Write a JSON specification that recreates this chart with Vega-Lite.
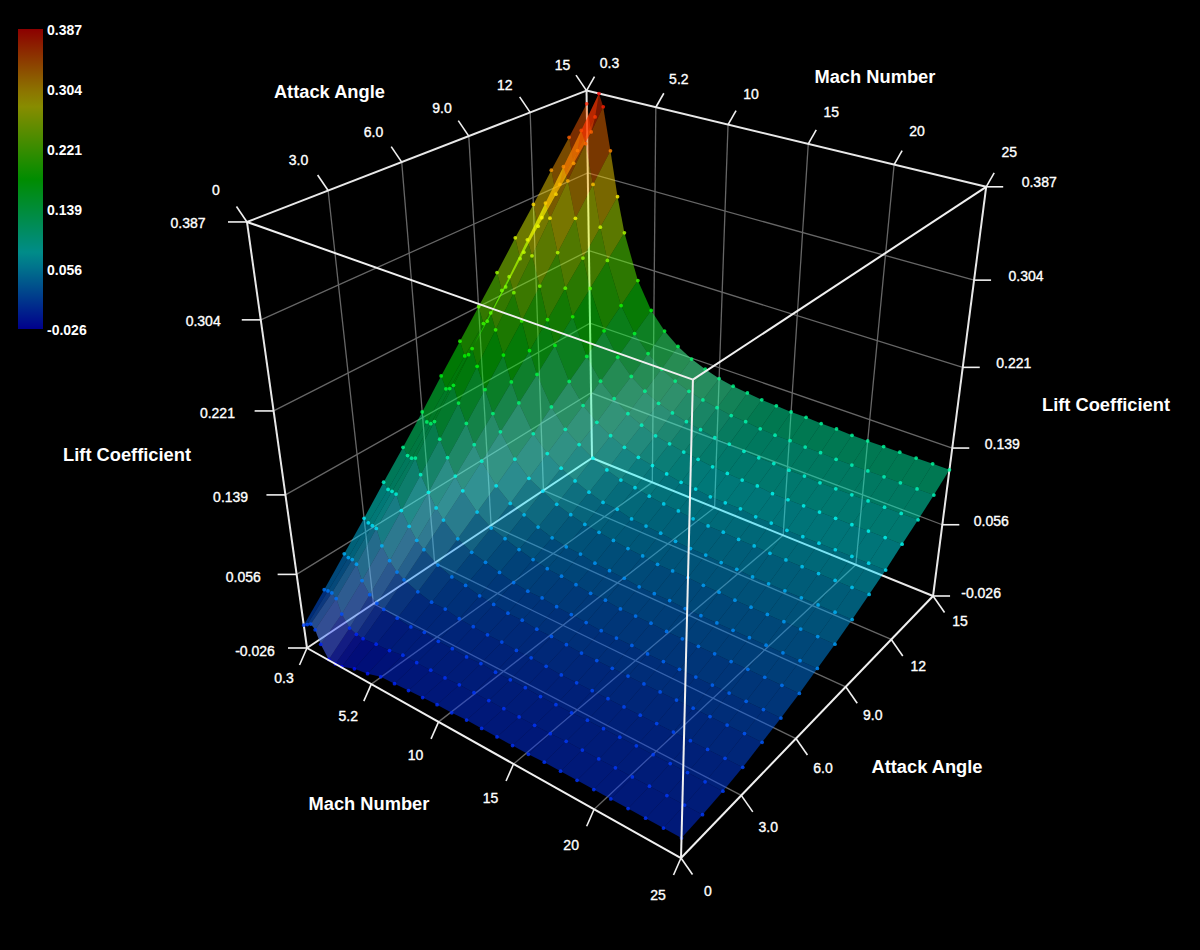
{"$schema":"https://vega.github.io/schema/vega-lite/v6.json","width":1200,"height":950,"padding":0,"autosize":{"type":"none"},"background":"#000000","config":{"view":{"stroke":null},"font":"Liberation Sans"},
"datasets":{
"surface":[
{"m":0.3,"a":15,"c":0.374},{"m":0.3,"a":14,"c":0.348},{"m":0.3,"a":13,"c":0.323},{"m":0.3,"a":12,"c":0.297},{"m":0.3,"a":11,"c":0.272},{"m":0.3,"a":10,"c":0.246},{"m":0.3,"a":9,"c":0.221},{"m":0.3,"a":8,"c":0.196},{"m":0.3,"a":7,"c":0.171},{"m":0.3,"a":6,"c":0.145},{"m":0.3,"a":5,"c":0.12},{"m":0.3,"a":4,"c":0.096},{"m":0.3,"a":3,"c":0.071},{"m":0.3,"a":2,"c":0.047},{"m":0.3,"a":1,"c":0.023},{"m":0.3,"a":0,"c":0},
{"m":0.6,"a":15,"c":0.347},{"m":0.6,"a":14,"c":0.323},{"m":0.6,"a":13,"c":0.3},{"m":0.6,"a":12,"c":0.276},{"m":0.6,"a":11,"c":0.252},{"m":0.6,"a":10,"c":0.229},{"m":0.6,"a":9,"c":0.205},{"m":0.6,"a":8,"c":0.182},{"m":0.6,"a":7,"c":0.159},{"m":0.6,"a":6,"c":0.136},{"m":0.6,"a":5,"c":0.113},{"m":0.6,"a":4,"c":0.09},{"m":0.6,"a":3,"c":0.068},{"m":0.6,"a":2,"c":0.045},{"m":0.6,"a":1,"c":0.024},{"m":0.6,"a":0,"c":0.003},
{"m":0.9,"a":15,"c":0.363},{"m":0.9,"a":14,"c":0.337},{"m":0.9,"a":13,"c":0.311},{"m":0.9,"a":12,"c":0.286},{"m":0.9,"a":11,"c":0.26},{"m":0.9,"a":10,"c":0.234},{"m":0.9,"a":9,"c":0.209},{"m":0.9,"a":8,"c":0.185},{"m":0.9,"a":7,"c":0.161},{"m":0.9,"a":6,"c":0.136},{"m":0.9,"a":5,"c":0.112},{"m":0.9,"a":4,"c":0.09},{"m":0.9,"a":3,"c":0.067},{"m":0.9,"a":2,"c":0.045},{"m":0.9,"a":1,"c":0.024},{"m":0.9,"a":0,"c":0.006},
{"m":1.2,"a":15,"c":0.387},{"m":1.2,"a":14,"c":0.358},{"m":1.2,"a":13,"c":0.33},{"m":1.2,"a":12,"c":0.302},{"m":1.2,"a":11,"c":0.274},{"m":1.2,"a":10,"c":0.246},{"m":1.2,"a":9,"c":0.219},{"m":1.2,"a":8,"c":0.193},{"m":1.2,"a":7,"c":0.166},{"m":1.2,"a":6,"c":0.14},{"m":1.2,"a":5,"c":0.114},{"m":1.2,"a":4,"c":0.089},{"m":1.2,"a":3,"c":0.066},{"m":1.2,"a":2,"c":0.042},{"m":1.2,"a":1,"c":0.02},{"m":1.2,"a":0,"c":0.002},
{"m":1.5,"a":15,"c":0.375},{"m":1.5,"a":14,"c":0.346},{"m":1.5,"a":13,"c":0.317},{"m":1.5,"a":12,"c":0.288},{"m":1.5,"a":11,"c":0.259},{"m":1.5,"a":10,"c":0.231},{"m":1.5,"a":9,"c":0.203},{"m":1.5,"a":8,"c":0.176},{"m":1.5,"a":7,"c":0.149},{"m":1.5,"a":6,"c":0.123},{"m":1.5,"a":5,"c":0.098},{"m":1.5,"a":4,"c":0.073},{"m":1.5,"a":3,"c":0.049},{"m":1.5,"a":2,"c":0.026},{"m":1.5,"a":1,"c":0.005},{"m":1.5,"a":0,"c":-0.012},
{"m":2,"a":15,"c":0.333},{"m":2,"a":14,"c":0.307},{"m":2,"a":13,"c":0.281},{"m":2,"a":12,"c":0.255},{"m":2,"a":11,"c":0.23},{"m":2,"a":10,"c":0.204},{"m":2,"a":9,"c":0.179},{"m":2,"a":8,"c":0.154},{"m":2,"a":7,"c":0.13},{"m":2,"a":6,"c":0.106},{"m":2,"a":5,"c":0.082},{"m":2,"a":4,"c":0.059},{"m":2,"a":3,"c":0.036},{"m":2,"a":2,"c":0.014},{"m":2,"a":1,"c":-0.007},{"m":2,"a":0,"c":-0.025},
{"m":2.5,"a":15,"c":0.288},{"m":2.5,"a":14,"c":0.265},{"m":2.5,"a":13,"c":0.242},{"m":2.5,"a":12,"c":0.22},{"m":2.5,"a":11,"c":0.197},{"m":2.5,"a":10,"c":0.175},{"m":2.5,"a":9,"c":0.153},{"m":2.5,"a":8,"c":0.131},{"m":2.5,"a":7,"c":0.11},{"m":2.5,"a":6,"c":0.089},{"m":2.5,"a":5,"c":0.068},{"m":2.5,"a":4,"c":0.047},{"m":2.5,"a":3,"c":0.027},{"m":2.5,"a":2,"c":0.008},{"m":2.5,"a":1,"c":-0.01},{"m":2.5,"a":0,"c":-0.026},
{"m":3,"a":15,"c":0.252},{"m":3,"a":14,"c":0.232},{"m":3,"a":13,"c":0.212},{"m":3,"a":12,"c":0.192},{"m":3,"a":11,"c":0.172},{"m":3,"a":10,"c":0.152},{"m":3,"a":9,"c":0.133},{"m":3,"a":8,"c":0.114},{"m":3,"a":7,"c":0.095},{"m":3,"a":6,"c":0.076},{"m":3,"a":5,"c":0.058},{"m":3,"a":4,"c":0.04},{"m":3,"a":3,"c":0.022},{"m":3,"a":2,"c":0.005},{"m":3,"a":1,"c":-0.011},{"m":3,"a":0,"c":-0.025},
{"m":4,"a":15,"c":0.205},{"m":4,"a":14,"c":0.188},{"m":4,"a":13,"c":0.171},{"m":4,"a":12,"c":0.154},{"m":4,"a":11,"c":0.138},{"m":4,"a":10,"c":0.122},{"m":4,"a":9,"c":0.105},{"m":4,"a":8,"c":0.09},{"m":4,"a":7,"c":0.074},{"m":4,"a":6,"c":0.059},{"m":4,"a":5,"c":0.044},{"m":4,"a":4,"c":0.03},{"m":4,"a":3,"c":0.016},{"m":4,"a":2,"c":0.003},{"m":4,"a":1,"c":-0.009},{"m":4,"a":0,"c":-0.019},
{"m":5,"a":15,"c":0.177},{"m":5,"a":14,"c":0.162},{"m":5,"a":13,"c":0.147},{"m":5,"a":12,"c":0.132},{"m":5,"a":11,"c":0.117},{"m":5,"a":10,"c":0.103},{"m":5,"a":9,"c":0.089},{"m":5,"a":8,"c":0.075},{"m":5,"a":7,"c":0.061},{"m":5,"a":6,"c":0.048},{"m":5,"a":5,"c":0.036},{"m":5,"a":4,"c":0.024},{"m":5,"a":3,"c":0.012},{"m":5,"a":2,"c":0.001},{"m":5,"a":1,"c":-0.008},{"m":5,"a":0,"c":-0.016},
{"m":6,"a":15,"c":0.159},{"m":6,"a":14,"c":0.145},{"m":6,"a":13,"c":0.131},{"m":6,"a":12,"c":0.118},{"m":6,"a":11,"c":0.104},{"m":6,"a":10,"c":0.092},{"m":6,"a":9,"c":0.079},{"m":6,"a":8,"c":0.067},{"m":6,"a":7,"c":0.055},{"m":6,"a":6,"c":0.043},{"m":6,"a":5,"c":0.032},{"m":6,"a":4,"c":0.022},{"m":6,"a":3,"c":0.012},{"m":6,"a":2,"c":0.003},{"m":6,"a":1,"c":-0.005},{"m":6,"a":0,"c":-0.011},
{"m":7,"a":15,"c":0.147},{"m":7,"a":14,"c":0.133},{"m":7,"a":13,"c":0.12},{"m":7,"a":12,"c":0.107},{"m":7,"a":11,"c":0.095},{"m":7,"a":10,"c":0.083},{"m":7,"a":9,"c":0.071},{"m":7,"a":8,"c":0.059},{"m":7,"a":7,"c":0.048},{"m":7,"a":6,"c":0.038},{"m":7,"a":5,"c":0.028},{"m":7,"a":4,"c":0.018},{"m":7,"a":3,"c":0.009},{"m":7,"a":2,"c":0.001},{"m":7,"a":1,"c":-0.005},{"m":7,"a":0,"c":-0.01},
{"m":8,"a":15,"c":0.138},{"m":8,"a":14,"c":0.125},{"m":8,"a":13,"c":0.112},{"m":8,"a":12,"c":0.1},{"m":8,"a":11,"c":0.088},{"m":8,"a":10,"c":0.076},{"m":8,"a":9,"c":0.065},{"m":8,"a":8,"c":0.054},{"m":8,"a":7,"c":0.043},{"m":8,"a":6,"c":0.034},{"m":8,"a":5,"c":0.024},{"m":8,"a":4,"c":0.016},{"m":8,"a":3,"c":0.008},{"m":8,"a":2,"c":0.001},{"m":8,"a":1,"c":-0.005},{"m":8,"a":0,"c":-0.009},
{"m":9,"a":15,"c":0.132},{"m":9,"a":14,"c":0.119},{"m":9,"a":13,"c":0.107},{"m":9,"a":12,"c":0.094},{"m":9,"a":11,"c":0.083},{"m":9,"a":10,"c":0.071},{"m":9,"a":9,"c":0.06},{"m":9,"a":8,"c":0.05},{"m":9,"a":7,"c":0.04},{"m":9,"a":6,"c":0.031},{"m":9,"a":5,"c":0.022},{"m":9,"a":4,"c":0.014},{"m":9,"a":3,"c":0.007},{"m":9,"a":2,"c":0},{"m":9,"a":1,"c":-0.005},{"m":9,"a":0,"c":-0.008},
{"m":10,"a":15,"c":0.127},{"m":10,"a":14,"c":0.115},{"m":10,"a":13,"c":0.103},{"m":10,"a":12,"c":0.091},{"m":10,"a":11,"c":0.08},{"m":10,"a":10,"c":0.069},{"m":10,"a":9,"c":0.059},{"m":10,"a":8,"c":0.048},{"m":10,"a":7,"c":0.039},{"m":10,"a":6,"c":0.03},{"m":10,"a":5,"c":0.022},{"m":10,"a":4,"c":0.014},{"m":10,"a":3,"c":0.007},{"m":10,"a":2,"c":0.001},{"m":10,"a":1,"c":-0.004},{"m":10,"a":0,"c":-0.007},
{"m":11,"a":15,"c":0.124},{"m":11,"a":14,"c":0.112},{"m":11,"a":13,"c":0.1},{"m":11,"a":12,"c":0.088},{"m":11,"a":11,"c":0.077},{"m":11,"a":10,"c":0.066},{"m":11,"a":9,"c":0.055},{"m":11,"a":8,"c":0.046},{"m":11,"a":7,"c":0.036},{"m":11,"a":6,"c":0.028},{"m":11,"a":5,"c":0.02},{"m":11,"a":4,"c":0.012},{"m":11,"a":3,"c":0.006},{"m":11,"a":2,"c":0},{"m":11,"a":1,"c":-0.004},{"m":11,"a":0,"c":-0.007},
{"m":12,"a":15,"c":0.122},{"m":12,"a":14,"c":0.109},{"m":12,"a":13,"c":0.097},{"m":12,"a":12,"c":0.086},{"m":12,"a":11,"c":0.074},{"m":12,"a":10,"c":0.064},{"m":12,"a":9,"c":0.054},{"m":12,"a":8,"c":0.044},{"m":12,"a":7,"c":0.035},{"m":12,"a":6,"c":0.026},{"m":12,"a":5,"c":0.019},{"m":12,"a":4,"c":0.012},{"m":12,"a":3,"c":0.006},{"m":12,"a":2,"c":0},{"m":12,"a":1,"c":-0.004},{"m":12,"a":0,"c":-0.006},
{"m":13,"a":15,"c":0.12},{"m":13,"a":14,"c":0.108},{"m":13,"a":13,"c":0.096},{"m":13,"a":12,"c":0.084},{"m":13,"a":11,"c":0.073},{"m":13,"a":10,"c":0.063},{"m":13,"a":9,"c":0.053},{"m":13,"a":8,"c":0.043},{"m":13,"a":7,"c":0.034},{"m":13,"a":6,"c":0.026},{"m":13,"a":5,"c":0.018},{"m":13,"a":4,"c":0.011},{"m":13,"a":3,"c":0.005},{"m":13,"a":2,"c":0},{"m":13,"a":1,"c":-0.004},{"m":13,"a":0,"c":-0.006},
{"m":14,"a":15,"c":0.119},{"m":14,"a":14,"c":0.106},{"m":14,"a":13,"c":0.094},{"m":14,"a":12,"c":0.083},{"m":14,"a":11,"c":0.071},{"m":14,"a":10,"c":0.061},{"m":14,"a":9,"c":0.051},{"m":14,"a":8,"c":0.041},{"m":14,"a":7,"c":0.032},{"m":14,"a":6,"c":0.024},{"m":14,"a":5,"c":0.017},{"m":14,"a":4,"c":0.01},{"m":14,"a":3,"c":0.004},{"m":14,"a":2,"c":-0.001},{"m":14,"a":1,"c":-0.004},{"m":14,"a":0,"c":-0.006},
{"m":15,"a":15,"c":0.118},{"m":15,"a":14,"c":0.105},{"m":15,"a":13,"c":0.093},{"m":15,"a":12,"c":0.082},{"m":15,"a":11,"c":0.071},{"m":15,"a":10,"c":0.06},{"m":15,"a":9,"c":0.05},{"m":15,"a":8,"c":0.041},{"m":15,"a":7,"c":0.032},{"m":15,"a":6,"c":0.024},{"m":15,"a":5,"c":0.017},{"m":15,"a":4,"c":0.01},{"m":15,"a":3,"c":0.004},{"m":15,"a":2,"c":-0.001},{"m":15,"a":1,"c":-0.004},{"m":15,"a":0,"c":-0.006},
{"m":16,"a":15,"c":0.118},{"m":16,"a":14,"c":0.105},{"m":16,"a":13,"c":0.093},{"m":16,"a":12,"c":0.082},{"m":16,"a":11,"c":0.071},{"m":16,"a":10,"c":0.06},{"m":16,"a":9,"c":0.05},{"m":16,"a":8,"c":0.041},{"m":16,"a":7,"c":0.032},{"m":16,"a":6,"c":0.024},{"m":16,"a":5,"c":0.017},{"m":16,"a":4,"c":0.01},{"m":16,"a":3,"c":0.004},{"m":16,"a":2,"c":-0.001},{"m":16,"a":1,"c":-0.004},{"m":16,"a":0,"c":-0.006},
{"m":17,"a":15,"c":0.117},{"m":17,"a":14,"c":0.104},{"m":17,"a":13,"c":0.092},{"m":17,"a":12,"c":0.08},{"m":17,"a":11,"c":0.069},{"m":17,"a":10,"c":0.059},{"m":17,"a":9,"c":0.049},{"m":17,"a":8,"c":0.04},{"m":17,"a":7,"c":0.031},{"m":17,"a":6,"c":0.023},{"m":17,"a":5,"c":0.016},{"m":17,"a":4,"c":0.01},{"m":17,"a":3,"c":0.004},{"m":17,"a":2,"c":0},{"m":17,"a":1,"c":-0.003},{"m":17,"a":0,"c":-0.005},
{"m":18,"a":15,"c":0.117},{"m":18,"a":14,"c":0.104},{"m":18,"a":13,"c":0.092},{"m":18,"a":12,"c":0.08},{"m":18,"a":11,"c":0.069},{"m":18,"a":10,"c":0.059},{"m":18,"a":9,"c":0.049},{"m":18,"a":8,"c":0.04},{"m":18,"a":7,"c":0.031},{"m":18,"a":6,"c":0.023},{"m":18,"a":5,"c":0.016},{"m":18,"a":4,"c":0.01},{"m":18,"a":3,"c":0.004},{"m":18,"a":2,"c":0},{"m":18,"a":1,"c":-0.003},{"m":18,"a":0,"c":-0.005},
{"m":19,"a":15,"c":0.116},{"m":19,"a":14,"c":0.103},{"m":19,"a":13,"c":0.091},{"m":19,"a":12,"c":0.08},{"m":19,"a":11,"c":0.068},{"m":19,"a":10,"c":0.058},{"m":19,"a":9,"c":0.048},{"m":19,"a":8,"c":0.039},{"m":19,"a":7,"c":0.031},{"m":19,"a":6,"c":0.023},{"m":19,"a":5,"c":0.016},{"m":19,"a":4,"c":0.01},{"m":19,"a":3,"c":0.004},{"m":19,"a":2,"c":0},{"m":19,"a":1,"c":-0.003},{"m":19,"a":0,"c":-0.005},
{"m":20,"a":15,"c":0.116},{"m":20,"a":14,"c":0.103},{"m":20,"a":13,"c":0.091},{"m":20,"a":12,"c":0.08},{"m":20,"a":11,"c":0.068},{"m":20,"a":10,"c":0.058},{"m":20,"a":9,"c":0.048},{"m":20,"a":8,"c":0.039},{"m":20,"a":7,"c":0.031},{"m":20,"a":6,"c":0.023},{"m":20,"a":5,"c":0.016},{"m":20,"a":4,"c":0.01},{"m":20,"a":3,"c":0.004},{"m":20,"a":2,"c":0},{"m":20,"a":1,"c":-0.003},{"m":20,"a":0,"c":-0.005},
{"m":21,"a":15,"c":0.116},{"m":21,"a":14,"c":0.103},{"m":21,"a":13,"c":0.091},{"m":21,"a":12,"c":0.08},{"m":21,"a":11,"c":0.068},{"m":21,"a":10,"c":0.058},{"m":21,"a":9,"c":0.048},{"m":21,"a":8,"c":0.039},{"m":21,"a":7,"c":0.031},{"m":21,"a":6,"c":0.023},{"m":21,"a":5,"c":0.016},{"m":21,"a":4,"c":0.01},{"m":21,"a":3,"c":0.004},{"m":21,"a":2,"c":0},{"m":21,"a":1,"c":-0.003},{"m":21,"a":0,"c":-0.005},
{"m":22,"a":15,"c":0.116},{"m":22,"a":14,"c":0.103},{"m":22,"a":13,"c":0.091},{"m":22,"a":12,"c":0.08},{"m":22,"a":11,"c":0.068},{"m":22,"a":10,"c":0.058},{"m":22,"a":9,"c":0.048},{"m":22,"a":8,"c":0.039},{"m":22,"a":7,"c":0.031},{"m":22,"a":6,"c":0.023},{"m":22,"a":5,"c":0.016},{"m":22,"a":4,"c":0.01},{"m":22,"a":3,"c":0.004},{"m":22,"a":2,"c":0},{"m":22,"a":1,"c":-0.003},{"m":22,"a":0,"c":-0.005},
{"m":23,"a":15,"c":0.116},{"m":23,"a":14,"c":0.103},{"m":23,"a":13,"c":0.091},{"m":23,"a":12,"c":0.08},{"m":23,"a":11,"c":0.068},{"m":23,"a":10,"c":0.058},{"m":23,"a":9,"c":0.048},{"m":23,"a":8,"c":0.039},{"m":23,"a":7,"c":0.031},{"m":23,"a":6,"c":0.023},{"m":23,"a":5,"c":0.016},{"m":23,"a":4,"c":0.01},{"m":23,"a":3,"c":0.004},{"m":23,"a":2,"c":0},{"m":23,"a":1,"c":-0.003},{"m":23,"a":0,"c":-0.005},
{"m":24,"a":15,"c":0.116},{"m":24,"a":14,"c":0.103},{"m":24,"a":13,"c":0.091},{"m":24,"a":12,"c":0.08},{"m":24,"a":11,"c":0.068},{"m":24,"a":10,"c":0.058},{"m":24,"a":9,"c":0.048},{"m":24,"a":8,"c":0.039},{"m":24,"a":7,"c":0.031},{"m":24,"a":6,"c":0.023},{"m":24,"a":5,"c":0.016},{"m":24,"a":4,"c":0.01},{"m":24,"a":3,"c":0.004},{"m":24,"a":2,"c":0},{"m":24,"a":1,"c":-0.003},{"m":24,"a":0,"c":-0.005},
{"m":25,"a":15,"c":0.116},{"m":25,"a":14,"c":0.103},{"m":25,"a":13,"c":0.091},{"m":25,"a":12,"c":0.08},{"m":25,"a":11,"c":0.068},{"m":25,"a":10,"c":0.058},{"m":25,"a":9,"c":0.048},{"m":25,"a":8,"c":0.039},{"m":25,"a":7,"c":0.031},{"m":25,"a":6,"c":0.023},{"m":25,"a":5,"c":0.016},{"m":25,"a":4,"c":0.01},{"m":25,"a":3,"c":0.004},{"m":25,"a":2,"c":0},{"m":25,"a":1,"c":-0.003},{"m":25,"a":0,"c":-0.005}
],
"grid":[
{"s":1,"m":0.3,"a":3,"c":0.387},{"s":1,"m":0.3,"a":3,"c":-0.026},{"s":2,"m":0.3,"a":6,"c":0.387},{"s":2,"m":0.3,"a":6,"c":-0.026},{"s":3,"m":0.3,"a":9,"c":0.387},{"s":3,"m":0.3,"a":9,"c":-0.026},{"s":4,"m":0.3,"a":12,"c":0.387},{"s":4,"m":0.3,"a":12,"c":-0.026},
{"s":5,"m":5.2,"a":15,"c":0.387},{"s":5,"m":5.2,"a":15,"c":-0.026},{"s":6,"m":10,"a":15,"c":0.387},{"s":6,"m":10,"a":15,"c":-0.026},{"s":7,"m":15,"a":15,"c":0.387},{"s":7,"m":15,"a":15,"c":-0.026},{"s":8,"m":20,"a":15,"c":0.387},{"s":8,"m":20,"a":15,"c":-0.026},
{"s":9,"m":0.3,"a":0,"c":0.056},{"s":9,"m":0.3,"a":15,"c":0.056},{"s":9,"m":25,"a":15,"c":0.056},{"s":10,"m":0.3,"a":0,"c":0.139},{"s":10,"m":0.3,"a":15,"c":0.139},{"s":10,"m":25,"a":15,"c":0.139},{"s":11,"m":0.3,"a":0,"c":0.221},{"s":11,"m":0.3,"a":15,"c":0.221},{"s":11,"m":25,"a":15,"c":0.221},{"s":12,"m":0.3,"a":0,"c":0.304},{"s":12,"m":0.3,"a":15,"c":0.304},{"s":12,"m":25,"a":15,"c":0.304},
{"s":13,"m":5.2,"a":0,"c":-0.026},{"s":13,"m":5.2,"a":15,"c":-0.026},{"s":14,"m":10,"a":0,"c":-0.026},{"s":14,"m":10,"a":15,"c":-0.026},{"s":15,"m":15,"a":0,"c":-0.026},{"s":15,"m":15,"a":15,"c":-0.026},{"s":16,"m":20,"a":0,"c":-0.026},{"s":16,"m":20,"a":15,"c":-0.026},
{"s":17,"m":0.3,"a":3,"c":-0.026},{"s":17,"m":25,"a":3,"c":-0.026},{"s":18,"m":0.3,"a":6,"c":-0.026},{"s":18,"m":25,"a":6,"c":-0.026},{"s":19,"m":0.3,"a":9,"c":-0.026},{"s":19,"m":25,"a":9,"c":-0.026},{"s":20,"m":0.3,"a":12,"c":-0.026},{"s":20,"m":25,"a":12,"c":-0.026}
],
"backEdges":[
{"s":1,"m":0.3,"a":0,"c":0.387},{"s":1,"m":0.3,"a":15,"c":0.387},{"s":2,"m":0.3,"a":15,"c":0.387},{"s":2,"m":25,"a":15,"c":0.387},{"s":3,"m":0.3,"a":0,"c":0.387},{"s":3,"m":0.3,"a":0,"c":-0.026},{"s":4,"m":0.3,"a":15,"c":0.387},{"s":4,"m":0.3,"a":15,"c":-0.026},{"s":5,"m":25,"a":15,"c":0.387},{"s":5,"m":25,"a":15,"c":-0.026},{"s":6,"m":0.3,"a":0,"c":-0.026},{"s":6,"m":0.3,"a":15,"c":-0.026},{"s":7,"m":0.3,"a":15,"c":-0.026},{"s":7,"m":25,"a":15,"c":-0.026}
],
"frontEdges":[
{"s":1,"m":0.3,"a":0,"c":0.387},{"s":1,"m":25,"a":0,"c":0.387},{"s":2,"m":25,"a":0,"c":0.387},{"s":2,"m":25,"a":15,"c":0.387},{"s":3,"m":25,"a":0,"c":0.387},{"s":3,"m":25,"a":0,"c":-0.026},{"s":4,"m":0.3,"a":0,"c":-0.026},{"s":4,"m":25,"a":0,"c":-0.026},{"s":5,"m":25,"a":0,"c":-0.026},{"s":5,"m":25,"a":15,"c":-0.026}
],
"ticks":[
{"k":"AT","m":0.3,"a":0,"c":0.387,"t":"0"},{"k":"AT","m":0.3,"a":3,"c":0.387,"t":"3.0"},{"k":"AT","m":0.3,"a":6,"c":0.387,"t":"6.0"},{"k":"AT","m":0.3,"a":9,"c":0.387,"t":"9.0"},{"k":"AT","m":0.3,"a":12,"c":0.387,"t":"12"},{"k":"AT","m":0.3,"a":15,"c":0.387,"t":"15"},
{"k":"MT","m":0.3,"a":15,"c":0.387,"t":"0.3"},{"k":"MT","m":5.2,"a":15,"c":0.387,"t":"5.2"},{"k":"MT","m":10,"a":15,"c":0.387,"t":"10"},{"k":"MT","m":15,"a":15,"c":0.387,"t":"15"},{"k":"MT","m":20,"a":15,"c":0.387,"t":"20"},{"k":"MT","m":25,"a":15,"c":0.387,"t":"25"},
{"k":"CL","m":0.3,"a":0,"c":0.387,"t":"0.387"},{"k":"CL","m":0.3,"a":0,"c":0.304,"t":"0.304"},{"k":"CL","m":0.3,"a":0,"c":0.221,"t":"0.221"},{"k":"CL","m":0.3,"a":0,"c":0.139,"t":"0.139"},{"k":"CL","m":0.3,"a":0,"c":0.056,"t":"0.056"},{"k":"CL","m":0.3,"a":0,"c":-0.026,"t":"-0.026"},
{"k":"CR","m":25,"a":15,"c":0.387,"t":"0.387"},{"k":"CR","m":25,"a":15,"c":0.304,"t":"0.304"},{"k":"CR","m":25,"a":15,"c":0.221,"t":"0.221"},{"k":"CR","m":25,"a":15,"c":0.139,"t":"0.139"},{"k":"CR","m":25,"a":15,"c":0.056,"t":"0.056"},{"k":"CR","m":25,"a":15,"c":-0.026,"t":"-0.026"},
{"k":"MB","m":0.3,"a":0,"c":-0.026,"t":"0.3"},{"k":"MB","m":5.2,"a":0,"c":-0.026,"t":"5.2"},{"k":"MB","m":10,"a":0,"c":-0.026,"t":"10"},{"k":"MB","m":15,"a":0,"c":-0.026,"t":"15"},{"k":"MB","m":20,"a":0,"c":-0.026,"t":"20"},{"k":"MB","m":25,"a":0,"c":-0.026,"t":"25"},
{"k":"AB","m":25,"a":0,"c":-0.026,"t":"0"},{"k":"AB","m":25,"a":3,"c":-0.026,"t":"3.0"},{"k":"AB","m":25,"a":6,"c":-0.026,"t":"6.0"},{"k":"AB","m":25,"a":9,"c":-0.026,"t":"9.0"},{"k":"AB","m":25,"a":12,"c":-0.026,"t":"12"},{"k":"AB","m":25,"a":15,"c":-0.026,"t":"15"}
],
"titles":[
{"k":"T1","m":0.3,"a":7.5,"c":0.387,"t":"Attack Angle"},{"k":"T2","m":25,"a":7.5,"c":-0.026,"t":"Attack Angle"},{"k":"T3","m":12.65,"a":15,"c":0.387,"t":"Mach Number"},{"k":"T4","m":12.65,"a":0,"c":-0.026,"t":"Mach Number"},{"k":"T5","m":0.3,"a":0,"c":0.1805,"t":"Lift Coefficient"},{"k":"T6","m":25,"a":15,"c":0.1805,"t":"Lift Coefficient"}
]},
"encoding":{"x":{"field":"sx","type":"quantitative","scale":{"domain":[0,1200],"nice":false,"zero":false},"axis":null},"y":{"field":"sy","type":"quantitative","scale":{"domain":[950,0],"nice":false,"zero":false},"axis":null}},
"layer":[
{"data":{"name":"grid"},"transform":[{"calculate":"1-0.1611*(datum.m-0.3)/24.7+0.2158*datum.a/15-0.157*(datum.c+0.026)/0.413","as":"D"},{"calculate":"(307+264.3*(datum.m-0.3)/24.7+412.8*datum.a/15-98.8*(datum.c+0.026)/0.413)/datum.D","as":"sx"},{"calculate":"(648+71.8*(datum.m-0.3)/24.7-91.2*datum.a/15-460.9*(datum.c+0.026)/0.413)/datum.D","as":"sy"}],"mark":{"type":"line","stroke":"#666666","strokeWidth":1.3},"encoding":{"detail":{"field":"s"},"order":null}},
{"data":{"name":"backEdges"},"transform":[{"calculate":"1-0.1611*(datum.m-0.3)/24.7+0.2158*datum.a/15-0.157*(datum.c+0.026)/0.413","as":"D"},{"calculate":"(307+264.3*(datum.m-0.3)/24.7+412.8*datum.a/15-98.8*(datum.c+0.026)/0.413)/datum.D","as":"sx"},{"calculate":"(648+71.8*(datum.m-0.3)/24.7-91.2*datum.a/15-460.9*(datum.c+0.026)/0.413)/datum.D","as":"sy"}],"mark":{"type":"line","stroke":"#e8e8e8","strokeWidth":2},"encoding":{"detail":{"field":"s"},"order":null}},
{"data":{"name":"surface"},"transform":[{"calculate":"1-0.1611*(datum.m-0.3)/24.7+0.2158*datum.a/15-0.157*(datum.c+0.026)/0.413","as":"D"},{"calculate":"(307+264.3*(datum.m-0.3)/24.7+412.8*datum.a/15-98.8*(datum.c+0.026)/0.413)/datum.D","as":"sx"},{"calculate":"(648+71.8*(datum.m-0.3)/24.7-91.2*datum.a/15-460.9*(datum.c+0.026)/0.413)/datum.D","as":"sy"},{"calculate":"indexof([0.3,0.6,0.9,1.2,1.5,2,2.5,3,4,5,6,7,8,9,10,11,12,13,14,15,16,17,18,19,20,21,22,23,24,25],datum.m)","as":"i"},{"calculate":"[datum.i*100+datum.a,(datum.i-1)*100+datum.a,(datum.i-1)*100+datum.a-1,datum.i*100+datum.a-1]","as":"q"},{"calculate":"[0,1,2,3]","as":"ord"},{"flatten":["q","ord"]},{"filter":"datum.q>=0 && datum.q<2900 && datum.q%100<15"},{"joinaggregate":[{"op":"mean","field":"c","as":"qc"}],"groupby":["q"]}],"mark":{"type":"line","stroke":"transparent","strokeWidth":0,"opacity":0.47},"encoding":{"detail":{"field":"q"},"order":{"field":"ord","type":"ordinal"},"fill":{"field":"qc","type":"quantitative","scale":{"domain":[-0.026,0.0773,0.1805,0.2838,0.387],"range":["#0000ff","#00ffff","#00ff00","#ffff00","#ff0000"],"interpolate":"rgb"},"legend":{"orient":"none","legendX":18,"legendY":29,"direction":"vertical","title":null,"gradientLength":300,"gradientThickness":25,"gradientOpacity":0.55,"values":[-0.026,0.056,0.139,0.221,0.304,0.387],"labelExpr":"replace(format(datum.value,'.3f'),'\u2212','-')","labelColor":"#ffffff","labelFontSize":14,"labelFontWeight":"bold","labelFont":"Liberation Sans","labelOffset":4,"labelOverlap":false,"encoding":{"labels":{"baseline":{"value":"middle"},"dy":{"value":1.5}}}}}}},
{"data":{"name":"surface"},"transform":[{"calculate":"1-0.1611*(datum.m-0.3)/24.7+0.2158*datum.a/15-0.157*(datum.c+0.026)/0.413","as":"D"},{"calculate":"(307+264.3*(datum.m-0.3)/24.7+412.8*datum.a/15-98.8*(datum.c+0.026)/0.413)/datum.D","as":"sx"},{"calculate":"(648+71.8*(datum.m-0.3)/24.7-91.2*datum.a/15-460.9*(datum.c+0.026)/0.413)/datum.D","as":"sy"},{"calculate":"indexof([0.3,0.6,0.9,1.2,1.5,2,2.5,3,4,5,6,7,8,9,10,11,12,13,14,15,16,17,18,19,20,21,22,23,24,25],datum.m)","as":"i"},{"calculate":"[datum.i*100+datum.a,(datum.i-1)*100+datum.a,(datum.i-1)*100+datum.a-1,datum.i*100+datum.a-1]","as":"q"},{"calculate":"[0,1,2,3]","as":"ord"},{"flatten":["q","ord"]},{"filter":"datum.q>=0 && datum.q<2900 && datum.q%100<15"},{"joinaggregate":[{"op":"mean","field":"m","as":"qm"},{"op":"mean","field":"a","as":"qa"}],"groupby":["q"]},{"calculate":"0.2*exp(-pow((log(datum.qm)-0.25-0.14*datum.qa)/0.5,2))*clamp((14-datum.qm)/6,0,1)","as":"glow"}],"mark":{"type":"line","stroke":"transparent","strokeWidth":0,"fill":"#ffffff"},"encoding":{"detail":{"field":"q"},"order":{"field":"ord","type":"ordinal"},"opacity":{"field":"glow","type":"quantitative","scale":null,"legend":null}}},
{"data":{"name":"surface"},"transform":[{"calculate":"1-0.1611*(datum.m-0.3)/24.7+0.2158*datum.a/15-0.157*(datum.c+0.026)/0.413","as":"D"},{"calculate":"(307+264.3*(datum.m-0.3)/24.7+412.8*datum.a/15-98.8*(datum.c+0.026)/0.413)/datum.D","as":"sx"},{"calculate":"(648+71.8*(datum.m-0.3)/24.7-91.2*datum.a/15-460.9*(datum.c+0.026)/0.413)/datum.D","as":"sy"}],"mark":{"type":"circle","size":14,"opacity":0.8},"encoding":{"fill":{"field":"c","type":"quantitative","legend":null}}},
{"data":{"name":"frontEdges"},"transform":[{"calculate":"1-0.1611*(datum.m-0.3)/24.7+0.2158*datum.a/15-0.157*(datum.c+0.026)/0.413","as":"D"},{"calculate":"(307+264.3*(datum.m-0.3)/24.7+412.8*datum.a/15-98.8*(datum.c+0.026)/0.413)/datum.D","as":"sx"},{"calculate":"(648+71.8*(datum.m-0.3)/24.7-91.2*datum.a/15-460.9*(datum.c+0.026)/0.413)/datum.D","as":"sy"}],"mark":{"type":"line","stroke":"#f0f0f0","strokeWidth":2},"encoding":{"detail":{"field":"s"},"order":null}},
{"data":{"name":"ticks"},"transform":[{"calculate":"1-0.1611*(datum.m-0.3)/24.7+0.2158*datum.a/15-0.157*(datum.c+0.026)/0.413","as":"D"},{"calculate":"(307+264.3*(datum.m-0.3)/24.7+412.8*datum.a/15-98.8*(datum.c+0.026)/0.413)/datum.D","as":"sx"},{"calculate":"(648+71.8*(datum.m-0.3)/24.7-91.2*datum.a/15-460.9*(datum.c+0.026)/0.413)/datum.D","as":"sy"},{"calculate":"datum.sx+{AT:-10.5,MT:8,CL:-19,CR:17,MB:-7.5,AB:11.5}[datum.k]","as":"ex"},{"calculate":"datum.sy+{AT:-15.5,MT:-14,CL:0,CR:0,MB:17,AB:16.5}[datum.k]","as":"ey"}],"mark":{"type":"rule","stroke":"#f0f0f0","strokeWidth":1.6},"encoding":{"x2":{"field":"ex"},"y2":{"field":"ey"}}},
{"data":{"name":"ticks"},"transform":[{"calculate":"1-0.1611*(datum.m-0.3)/24.7+0.2158*datum.a/15-0.157*(datum.c+0.026)/0.413","as":"D"},{"calculate":"(0.387-datum.c)/0.413","as":"t2"},{"calculate":"(307+264.3*(datum.m-0.3)/24.7+412.8*datum.a/15-98.8*(datum.c+0.026)/0.413)/datum.D+{AT:-31+datum.a/15*7,MT:23,CL:-59+7*datum.t2,CR:53-5*datum.t2,MB:-23,AB:27}[datum.k]","as":"sx"},{"calculate":"(648+71.8*(datum.m-0.3)/24.7-91.2*datum.a/15-460.9*(datum.c+0.026)/0.413)/datum.D+{AT:-31+datum.a/15*6,MT:-26-datum.m/25*8,CL:2+2*datum.t2,CR:-4+2*datum.t2,MB:31+datum.m/25*7,AB:34-datum.a/15*8}[datum.k]","as":"sy"}],"mark":{"type":"text","color":"#ffffff","fontSize":14,"font":"Liberation Sans","align":"center","baseline":"middle","stroke":"#ffffff","strokeWidth":0.35},"encoding":{"text":{"field":"t"}}},
{"data":{"name":"titles"},"transform":[{"calculate":"1-0.1611*(datum.m-0.3)/24.7+0.2158*datum.a/15-0.157*(datum.c+0.026)/0.413","as":"D"},{"calculate":"(307+264.3*(datum.m-0.3)/24.7+412.8*datum.a/15-98.8*(datum.c+0.026)/0.413)/datum.D+{T1:-106.6,T2:105.6,T3:105,T4:-108.7,T5:-152.5,T6:148.5}[datum.k]","as":"sx"},{"calculate":"(648+71.8*(datum.m-0.3)/24.7-91.2*datum.a/15-460.9*(datum.c+0.026)/0.413)/datum.D+{T1:-55.6,T2:56,T3:-56.7,T4:61,T5:3,T6:-2}[datum.k]","as":"sy"}],"mark":{"type":"text","color":"#ffffff","fontSize":18.3,"fontWeight":"bold","font":"Liberation Sans","align":"center","baseline":"middle"},"encoding":{"text":{"field":"t"}}}
]}
